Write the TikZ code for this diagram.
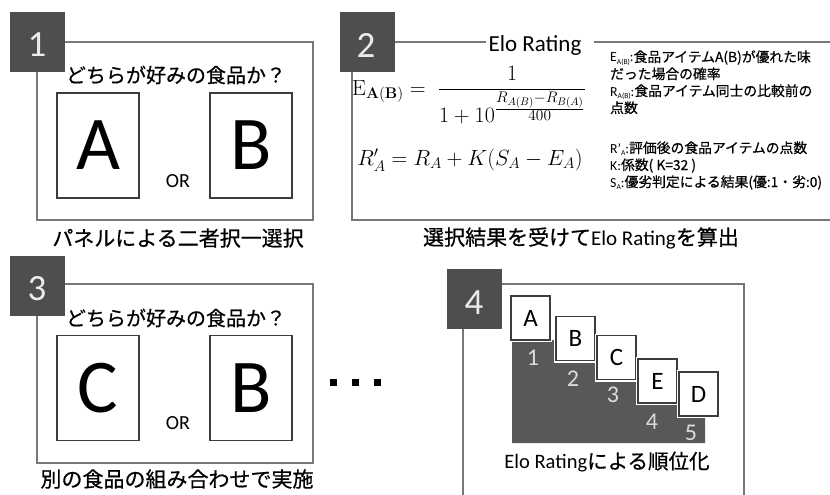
\RequirePackage{fix-cm}
\documentclass[tikz,border=0pt]{standalone}
\usepackage{amsmath}
\usepackage[no-math]{fontspec}
\setmainfont{Carlito}
\newfontfamily\jp[FakeBold=0.6]{Noto Sans CJK JP}
\definecolor{badgegray}{RGB}{78,78,78}
\definecolor{stairgray}{RGB}{88,88,88}
\definecolor{framegray}{RGB}{120,120,120}
\definecolor{cardgray}{RGB}{60,60,60}
\definecolor{numgray}{RGB}{235,235,235}
\definecolor{stairnum}{RGB}{220,220,220}
\newcommand\lsub[1]{\raisebox{-0.2em}{\fontsize{7.5}{8}\selectfont #1}}
\tikzset{
  badge/.style={fill=badgegray, minimum width=55pt, minimum height=60pt, inner sep=0pt},
  badgenum/.style={text=numgray, inner sep=0pt, font=\fontsize{37}{40}\selectfont},
  frame/.style={draw=framegray, line width=2pt, inner sep=0pt},
  card/.style={draw=cardgray, line width=1.5pt, fill=white, inner sep=0pt, minimum width=82pt, minimum height=105pt, font=\fontsize{76}{80}\selectfont},
  smallcard/.style={draw=cardgray, line width=1.2pt, fill=white, inner sep=0pt, minimum width=39pt, minimum height=44pt, font=\fontsize{25}{28}\selectfont, preaction={draw=white, line width=4pt}},
  ortext/.style={inner sep=0pt, font=\fontsize{20}{22}\selectfont},
  question/.style={inner sep=0pt, font=\jp\fontsize{20}{22}\selectfont},
  caption/.style={inner sep=0pt, font=\jp\fontsize{21}{24}\selectfont},
  note/.style={inner sep=0pt, anchor=base west, font=\fontsize{13.8}{15}\selectfont},
  stairnumber/.style={inner sep=0pt, text=stairnum, font=\fontsize{24}{26}\selectfont},
  formula/.style={inner sep=0pt, font=\fontsize{22}{26}\selectfont},
}
\begin{document}
\begin{tikzpicture}[x=1pt,y=-1pt]
\useasboundingbox (0,0) rectangle (830,495);

% ---------- panel 1 ----------
\node[frame, minimum width=276pt, minimum height=178pt] (box1) at (175,131) {};
\node[badge] (badge1) at (37,42) {};
\node[badgenum] (num1) at (37,45) {1};
\node[question] (q1) at (176,75) {どちらが好みの食品か？};
\node[card] (c1a) at (98,145.5) {A};
\node[card] (c1b) at (251,145.5) {B};
\node[ortext] (or1) at (178,181) {OR};
\node[caption] (cap1) at (178,238) {パネルによる二者択一選択};

% ---------- panel 2 ----------
\node[frame, minimum width=483pt, minimum height=178pt] (box2) at (593.5,131) {};
\node[badge] (badge2) at (367,42) {};
\node[badgenum] (num2) at (366,45) {2};
\fill[white] (486,35) rectangle (594,50);
\node[anchor=base, inner sep=0pt, font=\fontsize{23}{26}\selectfont] (title) at (535,52) {Elo Rating};
\node[formula, anchor=west] (f1) at (352,95)
  {$\mathrm{E}_{\mathbf{A(B)}} = \;\dfrac{1}{1+10^{\frac{\scriptstyle R_{A(B)}-R_{B(A)}}{\scriptstyle 400}}}$};
\node[formula] (f2) at (470,160)
  {$R'_A = R_A + K(S_A - E_A)$};
\node[note] (n1) at (610,62) {E\lsub{A(B)}:\jp{食品アイテム}A(B)\jp{が優れた味}};
\node[note] (n2) at (610,79) {\jp{だった場合の確率}};
\node[note] (n3) at (610,96) {R\lsub{A(B)}:\jp{食品アイテム同士の比較前の}};
\node[note] (n4) at (610,113) {\jp{点数}};
\node[note] (n5) at (610,153) {R’\lsub{A}:\jp{評価後の食品アイテムの点数}};
\node[note] (n6) at (610,170) {K:\jp{係数}( K=32 )};
\node[note] (n7) at (610,187) {S\lsub{A}:\jp{優劣判定による結果}(\jp{優}:1\jp{・劣}:0)};
\node[caption] (cap2) at (581,238) {選択結果を受けて{\rmfamily Elo Rating}を算出};

% ---------- panel 3 ----------
\node[frame, minimum width=276pt, minimum height=179pt] (box3) at (175,373.5) {};
\node[badge] (badge3) at (37,286) {};
\node[badgenum] (num3) at (37,289) {3};
\node[question] (q3) at (176,318) {どちらが好みの食品か？};
\node[card] (c3c) at (98,388) {C};
\node[card] (c3b) at (251,388) {B};
\node[ortext] (or3) at (178,423) {OR};
\node[caption] (cap3) at (177,479) {別の食品の組み合わせで実施};
\fill (330,379) rectangle +(7,7);
\fill (352,379) rectangle +(7,7);
\fill (374,379) rectangle +(7,7);

% ---------- panel 4 ----------
\node[frame, minimum width=281pt, minimum height=221pt] (box4) at (603.5,394.5) {};
\node[badge] (badge4) at (474.5,299) {};
\node[badgenum] (num4) at (474,303) {4};
\fill[stairgray] (512,443) -- (512,340) -- (556,340) -- (556,360) -- (597,360) -- (597,379)
  -- (638,379) -- (638,403) -- (679,403) -- (679,416) -- (705,416) -- (705,443) -- cycle;
\node[smallcard] (sa) at (530.5,318) {A};
\node[smallcard] (sb) at (575.5,338.5) {B};
\node[smallcard] (sc) at (616.5,357.5) {C};
\node[smallcard] (se) at (657.5,381) {E};
\node[smallcard] (sd) at (698.5,394) {D};
\node[stairnumber] (r1) at (533,358) {1};
\node[stairnumber] (r2) at (573,379) {2};
\node[stairnumber] (r3) at (613,395) {3};
\node[stairnumber] (r4) at (652,422) {4};
\node[stairnumber] (r5) at (691,433) {5};
\node[inner sep=0pt, font=\fontsize{20.5}{24}\selectfont] (cap4) at (607,462) {Elo Rating{\jp による順位化}};
\end{tikzpicture}
\end{document}
